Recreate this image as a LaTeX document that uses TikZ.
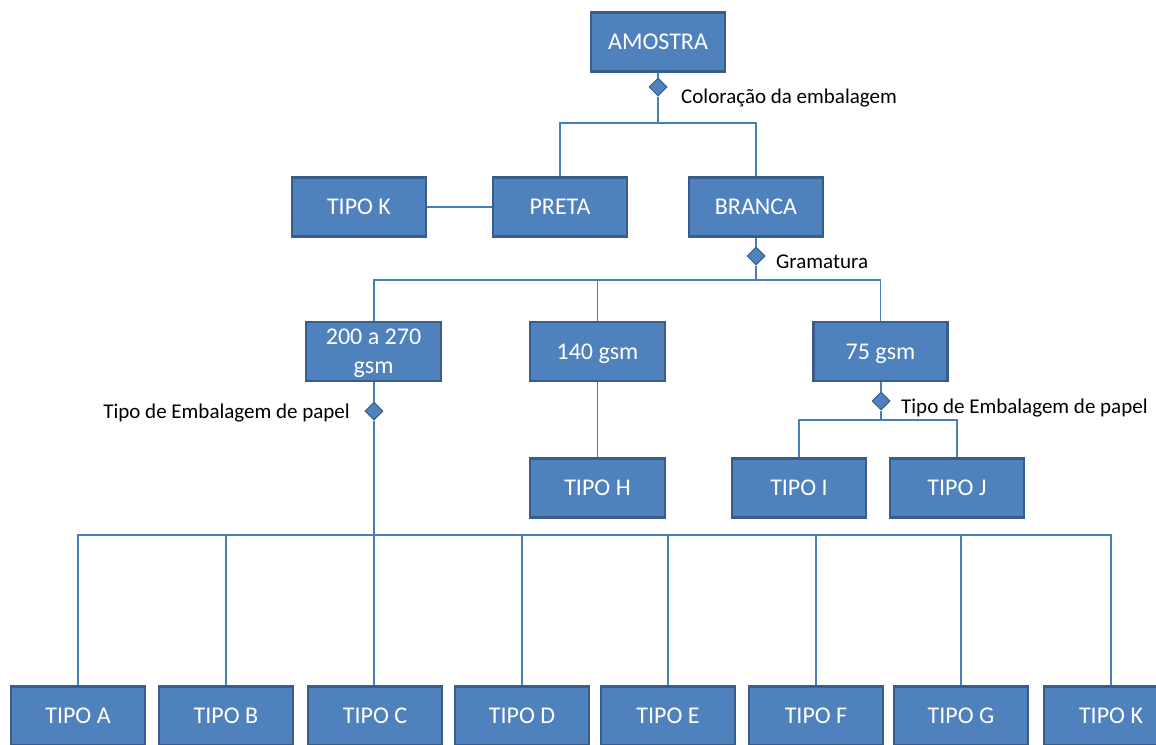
\documentclass[tikz,border=0pt]{standalone}
\usepackage{fontspec}
\setmainfont{Carlito}
\usetikzlibrary{shapes.geometric}
\definecolor{boxfill}{HTML}{4F81BD}
\definecolor{boxline}{HTML}{385D8A}
\definecolor{connc}{HTML}{4A7EBB}
\begin{document}
\begin{tikzpicture}[x=1pt,y=-1pt,
 box/.style={draw=boxline, line width=2.2pt, fill=boxfill, text=white, minimum width=134pt, minimum height=59pt, inner sep=0pt, font=\fontsize{24}{29}\selectfont, align=center, text depth=0pt},
 dia/.style={diamond, draw=boxline, fill=boxfill, line width=1pt, minimum width=18pt, minimum height=18pt, inner sep=0pt},
 lbl/.style={font=\fontsize{21}{25}\selectfont, inner sep=0pt, text=black},
 conn/.style={draw=connc, line width=1.4pt}]
\useasboundingbox (0,0) rectangle (1156,744);
\clip (0,0) rectangle (1156,744);

\coordinate (bus1) at (658,123);
\coordinate (bus2) at (756,280);
\coordinate (bus3) at (881,420);
\coordinate (bus4) at (374,535);

% boxes
\node[box] (amostra) at (658,42) {AMOSTRA};
\node[box] (tipoK1) at (359,207) {TIPO K};
\node[box] (preta) at (560,207) {PRETA};
\node[box] (branca) at (756,207) {BRANCA};
\node[box, minimum width=135pt] (g200) at (373.5,351.5) {200 a 270\\gsm};
\node[box, minimum width=135pt] (g140) at (597.5,351.5) {140 gsm};
\node[box] (g75) at (880.5,351.5) {75 gsm};
\node[box, minimum width=135pt] (tipoH) at (597.5,488) {TIPO H};
\node[box] (tipoI) at (799,488) {TIPO I};
\node[box] (tipoJ) at (957,488) {TIPO J};
\node[box] (tA) at (78,716) {TIPO A};
\node[box] (tB) at (226,716) {TIPO B};
\node[box] (tC) at (375,716) {TIPO C};
\node[box] (tD) at (522,716) {TIPO D};
\node[box] (tE) at (668,716) {TIPO E};
\node[box] (tF) at (816,716) {TIPO F};
\node[box] (tG) at (961,716) {TIPO G};
\node[box] (tK) at (1111,716) {TIPO K};

% diamonds
\node[dia] (d1) at (658,87) {};
\node[dia] (d2) at (756,256) {};
\node[dia] (d3) at (374,411) {};
\node[dia] (d4) at (881,401) {};

% labels
\node[lbl, anchor=base west] (l1) at (681,103) {Coloração da embalagem};
\node[lbl, anchor=base west] (l2) at (776,268.5) {Gramatura};
\node[lbl, anchor=base east] (l3) at (350,418) {Tipo de Embalagem de papel};
\node[lbl, anchor=base west] (l4) at (901,413) {Tipo de Embalagem de papel};

% connector lines
\draw[conn] (amostra.south) -- (d1.north);
\draw[conn] (d1.south) -- (bus1);
\draw[conn] (bus1) -| (preta.north);
\draw[conn] (bus1) -| (branca.north);
\draw[conn] (tipoK1.east) -- (preta.west);
\draw[conn] (branca.south) -- (d2.north);
\draw[conn] (d2.south) -- (bus2);
\draw[conn] (bus2) -| (g200.north -| d3);
\draw[conn] (bus2) -| (g140.north);
\draw[conn] (bus2) -| (g75.north);
\draw[conn] (g140.south) -- (tipoH.north);
\draw[conn] (g75.south -| d4) -- (d4.north);
\draw[conn] (d4.south) -- (bus3);
\draw[conn] (bus3) -| (tipoI.north);
\draw[conn] (bus3) -| (tipoJ.north);
\draw[conn] (g200.south -| d3) -- (d3.north);
\draw[conn] (d3.south) -- (bus4);
\draw[conn] (bus4) -| (tA.north);
\draw[conn] (bus4) -| (tB.north);
\draw[conn] (bus4) -- (tC.north -| bus4);
\draw[conn] (bus4) -| (tD.north);
\draw[conn] (bus4) -| (tE.north);
\draw[conn] (bus4) -| (tF.north);
\draw[conn] (bus4) -| (tG.north);
\draw[conn] (bus4) -| (tK.north);
\end{tikzpicture}
\end{document}
